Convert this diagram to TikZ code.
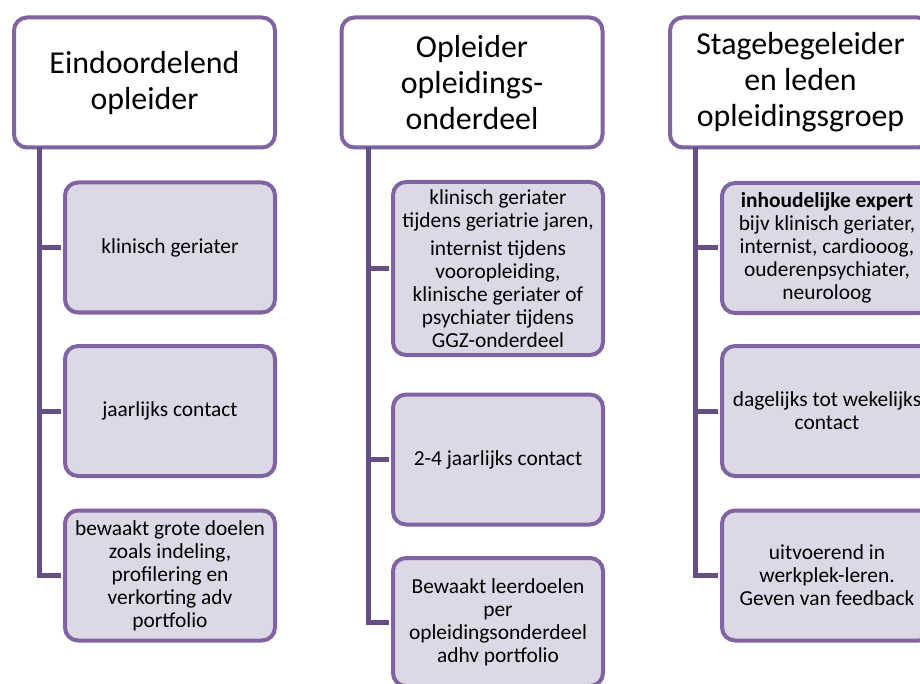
\documentclass[tikz,border=0pt]{standalone}
\usepackage{fontspec}
\setmainfont{Carlito}
\usepackage{tikz}
\definecolor{rand}{HTML}{8064A2}
\definecolor{vulling}{HTML}{DCD8E5}
\definecolor{lijn}{HTML}{654F84}

\begin{document}
\begin{tikzpicture}[x=1pt,y=-1pt,
  kop/.style={rectangle,rounded corners=13pt,draw=rand,line width=4pt,fill=white,
    minimum width=261pt,minimum height=130pt,align=center,inner sep=0pt,
    font=\fontsize{31.9}{36}\selectfont},
  sub/.style={rectangle,rounded corners=13pt,draw=rand,line width=4pt,fill=vulling,
    minimum width=210pt,minimum height=130pt,align=center,inner sep=0pt,
    font=\fontsize{21.4}{23}\selectfont},
  tak/.style={draw=lijn,line width=5pt,shorten >=2pt}]
\useasboundingbox (0,0) rectangle (920,684);
\clip (0,0) rectangle (920,684);

\node[kop] (hdrA) at (144.5,82.5) {Eindoordelend\\opleider};
\node[sub] (subA1) at (170,247.5) {klinisch geriater};
\node[sub] (subA2) at (170,411) {jaarlijks contact};
\node[sub] (subA3) at (170,575.5) {bewaakt grote doelen\\zoals indeling,\\profilering en\\verkorting adv\\portfolio};

\node[kop] (hdrB) at (472,82.5) {Opleider\\opleidings-\\onderdeel};
\node[sub,minimum height=173pt] (subB1) at (498,268.5) {klinisch geriater\\tijdens geriatrie jaren,\\[5pt]internist tijdens\\vooropleiding,\\klinische geriater of\\psychiater tijdens\\GGZ-onderdeel};
\node[sub] (subB2) at (498,459.5) {2-4 jaarlijks contact};
\node[sub,minimum height=128pt] (subB3) at (498,622) {Bewaakt leerdoelen\\per\\opleidingsonderdeel\\adhv portfolio};

\node[kop] (hdrC) at (800.5,82.5) {Stagebegeleider\\en leden\\opleidingsgroep};
\node[sub] (subC1) at (827,248) {\textbf{inhoudelijke expert}\\bijv klinisch geriater,\\internist, cardiooog,\\ouderenpsychiater,\\neuroloog};
\node[sub] (subC2) at (827,411) {dagelijks tot wekelijks\\contact};
\node[sub] (subC3) at (827,575.5) {uitvoerend in\\werkplek-leren.\\Geven van feedback};

\coordinate (asA) at (39,147);
\coordinate (asB) at (368,147);
\coordinate (asC) at (695,147);

\draw[tak] (asA) |- (subA3.west);
\draw[tak] (asA |- subA1.west) -- (subA1.west);
\draw[tak] (asA |- subA2.west) -- (subA2.west);

\draw[tak] (asB) |- (subB3.west);
\draw[tak] (asB |- subB1.west) -- (subB1.west);
\draw[tak] (asB |- subB2.west) -- (subB2.west);

\draw[tak] (asC) |- (subC3.west);
\draw[tak] (asC |- subC1.west) -- (subC1.west);
\draw[tak] (asC |- subC2.west) -- (subC2.west);

\end{tikzpicture}
\end{document}
